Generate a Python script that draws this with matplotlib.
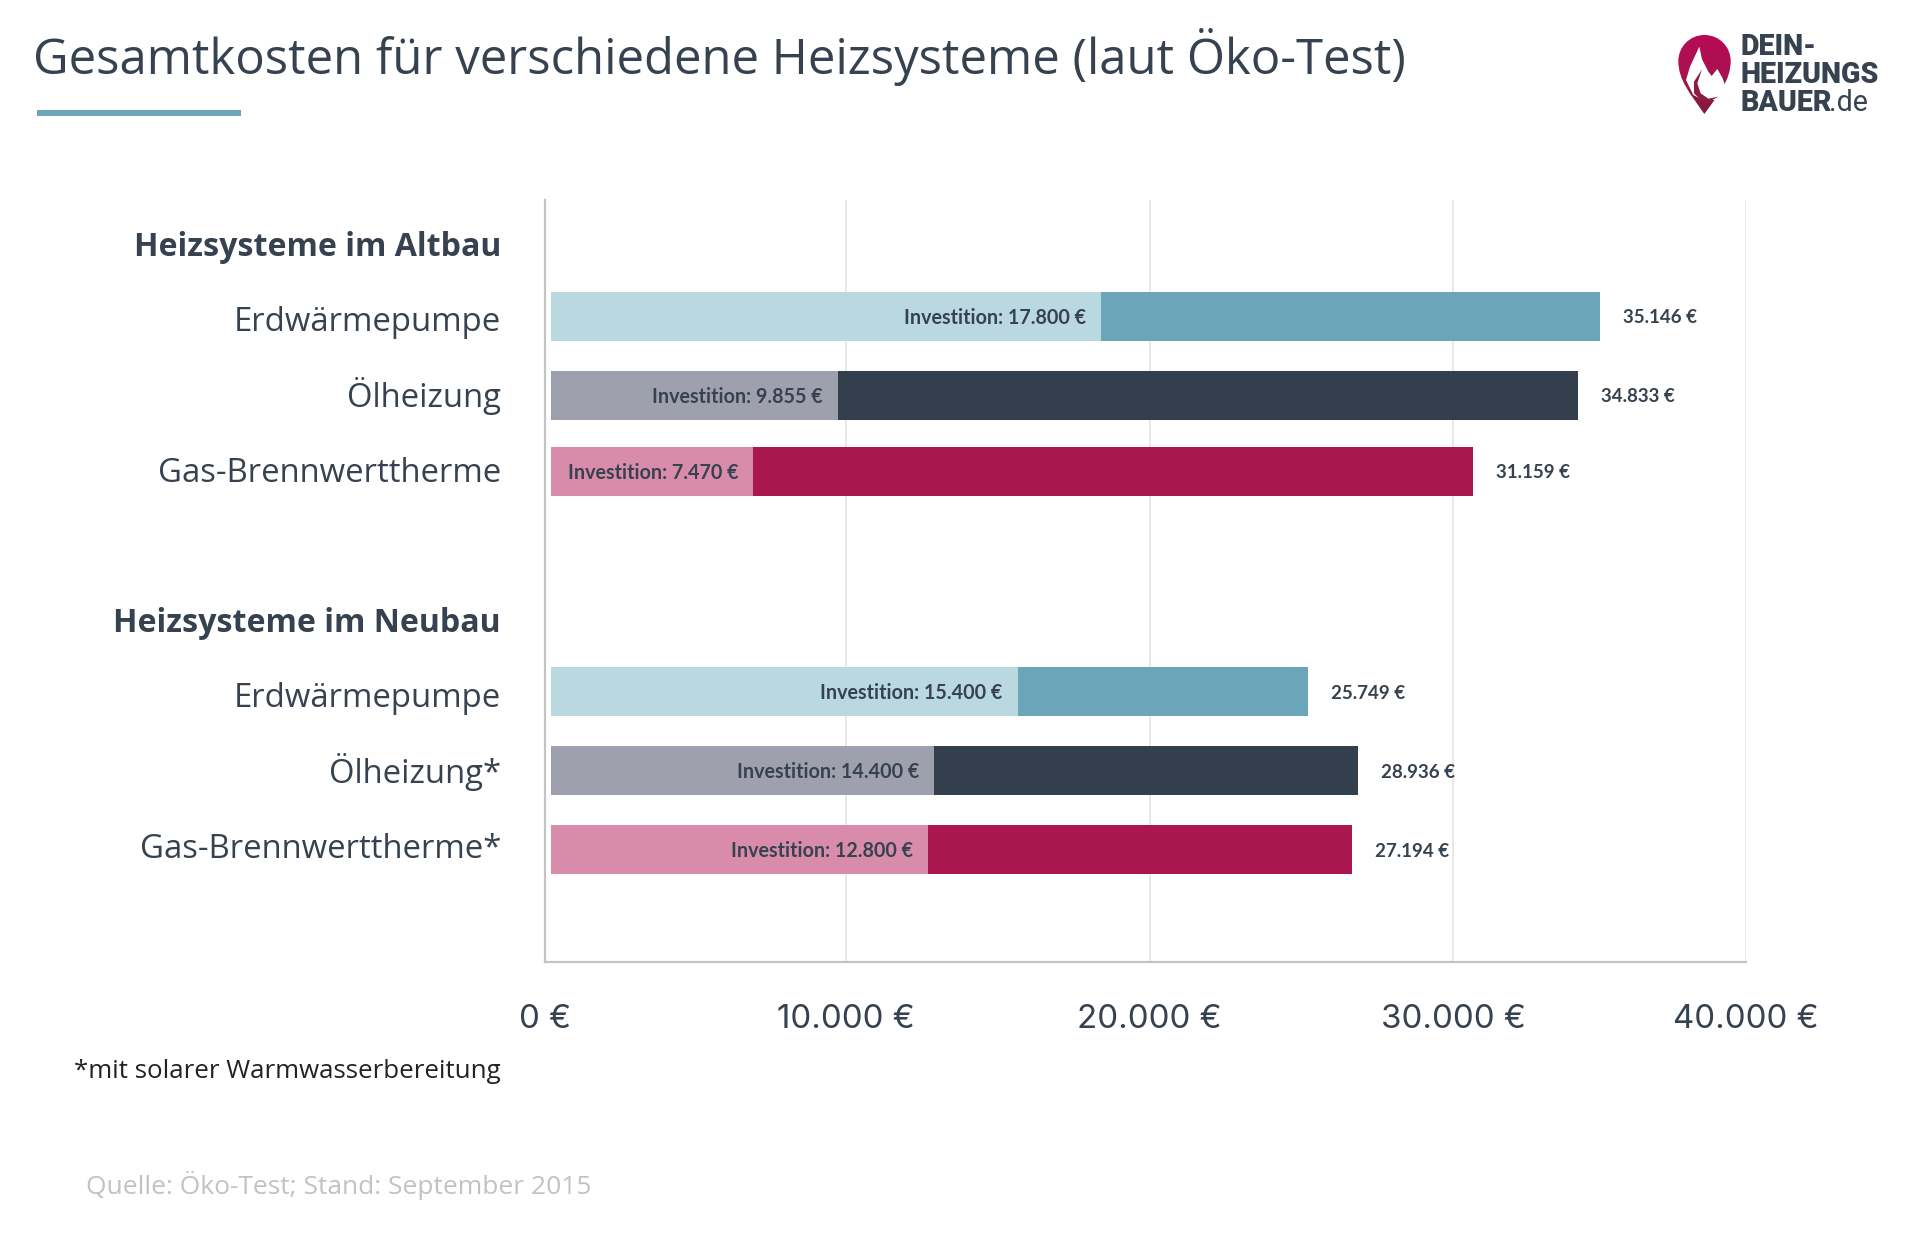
import numpy as np
import matplotlib
matplotlib.use('Agg')
import matplotlib.pyplot as plt
from matplotlib.path import Path
from matplotlib.patches import PathPatch, Rectangle

# --- data ---
row_labels = ['Heizsysteme im Altbau', 'Erdwärmepumpe', 'Ölheizung', 'Gas-Brennwerttherme',
              'Heizsysteme im Neubau', 'Erdwärmepumpe', 'Ölheizung*', 'Gas-Brennwerttherme*']
label_rows = [0, 1, 2, 3, 5, 6, 7, 8]
bar_rows = [0.96, 2.01, 3.02, 5.95, 7.0, 8.05]

# the bars do not follow the printed numbers exactly, so lengths are read off separately
bar_start = 204
invest_end = [18512, 9745, 6932, 15739, 12966, 12762]
total_end = [35147, 34414, 30907, 25402, 27074, 26870]
invest_text = ['17.800', '9.855', '7.470', '15.400', '14.400', '12.800']
total_text = ['35.146', '34.833', '31.159', '25.749', '28.936', '27.194']

# gridlines in the source are not evenly spaced
x_ticks = [0, 10000, 20000, 30000, 40000]
x_tick_pos = [0, 10031, 20143, 30255, 40000]

light_colors = ['#B9D8E0', '#9EA1AD', '#D88CA9', '#B9D8E0', '#9EA1AD', '#D88CA9']
dark_colors = ['#6BA6B8', '#333F4D', '#AA174F', '#6BA6B8', '#333F4D', '#AA174F']
text_color = '#36424F'

plt.rcParams['font.family'] = 'Open Sans'

W, H = 1920, 1259
fig = plt.figure(figsize=(W / 100, H / 100), dpi=100, facecolor='white')

# --- main chart ---
ax = fig.add_axes([545 / W, 1 - 962 / H, 1201 / W, 762 / H])
ax.set_xlim(0, 40000)
ax.set_ylim(9.544, -0.586)

ax.barh(bar_rows, np.array(invest_end) - bar_start, left=bar_start, height=0.65,
        color=light_colors, zorder=3)
ax.barh(bar_rows, np.array(total_end) - np.array(invest_end), left=invest_end, height=0.65,
        color=dark_colors, zorder=3)

for i, y in enumerate(bar_rows):
    ax.annotate(f'Investition: {invest_text[i]} €', (invest_end[i], y), xytext=(-15, -1.5),
                textcoords='offset pixels', ha='right', va='center', fontsize=14.2,
                family='Lato', weight='bold', color=text_color, zorder=4)
    ax.annotate(f'{total_text[i]} €', (total_end[i], y), xytext=(23, -1.5),
                textcoords='offset pixels', ha='left', va='center', fontsize=13.5,
                family='Lato', weight='bold', color=text_color, zorder=4)

ax.set_xticks(x_tick_pos)
ax.set_xticklabels([f'{v:,}'.replace(',', '.') + ' €' for v in x_ticks],
                   family='Inter', fontsize=23.8, color=text_color)
ax.tick_params(axis='x', length=0, pad=30)
ax.grid(axis='x', color='#E4E4E4', lw=1.2, zorder=0)
ax.set_axisbelow(True)

# row labels sit on a common baseline offset, like the source
ax.set_yticks(label_rows)
ax.set_yticklabels([])
ax.tick_params(axis='y', length=0)
for lab, row in zip(row_labels, label_rows):
    bold = lab.startswith('Heizsysteme')
    ax.annotate(lab, (0, row), xycoords=ax.get_yaxis_transform(), xytext=(-44, -12),
                textcoords='offset pixels', ha='right', va='baseline', color=text_color,
                fontsize=23.1 if bold else 23.7, weight='bold' if bold else 'normal',
                annotation_clip=False)

for side in ['top', 'right']:
    ax.spines[side].set_visible(False)
for side in ['left', 'bottom']:
    ax.spines[side].set_color('#C4C4C4')
    ax.spines[side].set_linewidth(1.6)

# --- everything outside the chart, placed in pixels ---
over = fig.add_axes([0, 0, 1, 1], zorder=5)
over.set_xlim(0, W)
over.set_ylim(H, 0)
over.axis('off')

over.text(33, 57, 'Gesamtkosten für verschiedene Heizsysteme (laut Öko-Test)',
          fontsize=35.3, color=text_color, va='center', ha='left')
over.add_patch(Rectangle((37, 110), 204, 6, color='#6BA6B8', lw=0))

over.text(501, 1072, '*mit solarer Warmwasserbereitung', fontsize=18.6, color='#1E2328',
          ha='right', va='center')
over.text(86, 1185, 'Quelle: Öko-Test; Stand: September 2015', fontsize=19, color='#C2C2C2',
          ha='left', va='center')

# logo
def logo_xy(pts):
    return [(1640 + x / 3, y / 3) for x, y in pts]

pin = Path(logo_xy([(193, 342), (150, 280), (115, 240), (115, 183), (115, 140), (150, 105), (193, 105),
                    (238, 105), (272, 140), (272, 183), (272, 240), (238, 280), (193, 342), (193, 342)]),
           [Path.MOVETO] + [Path.CURVE4] * 12 + [Path.CLOSEPOLY])
pin_patch = PathPatch(pin, fc='none', ec='none')
over.add_patch(pin_patch)
grad = np.linspace(0, 1, 100).reshape(-1, 1)
cmap = matplotlib.colors.LinearSegmentedColormap.from_list('pin', ['#B80A56', '#A81250', '#7E1B3C'])
im = over.imshow(grad, extent=(1678, 1731, 114, 35), cmap=cmap, aspect='auto', zorder=2)
im.set_clip_path(pin_patch)
over.set_xlim(0, W)
over.set_ylim(H, 0)

flame = logo_xy([(178, 140), (186, 178), (205, 215), (215, 228), (232, 207), (248, 235), (255, 255),
                 (240, 285), (225, 300), (190, 300), (160, 285), (150, 265), (138, 240), (150, 200)])
over.fill(*zip(*flame), color='white', lw=0, zorder=3)
hook = logo_xy([(186, 208), (162, 245), (162, 280), (195, 312), (235, 290), (205, 296), (182, 280),
                (172, 250)])
over.fill(*zip(*hook), color='#8E1A42', lw=0, zorder=4)

logo_font = dict(family='Roboto', weight='black', color='#36424F', va='center', ha='left', fontsize=20.6)
over.text(1741, 47, 'DEIN-', **logo_font)
over.text(1741, 75, 'HEIZUNGS', **logo_font)
over.text(1741, 103, 'BAUER', **logo_font)
over.text(1829, 103, '.de', family='Roboto', color='#36424F', va='center', ha='left', fontsize=20.6)

fig.savefig('out.png', dpi=100)
